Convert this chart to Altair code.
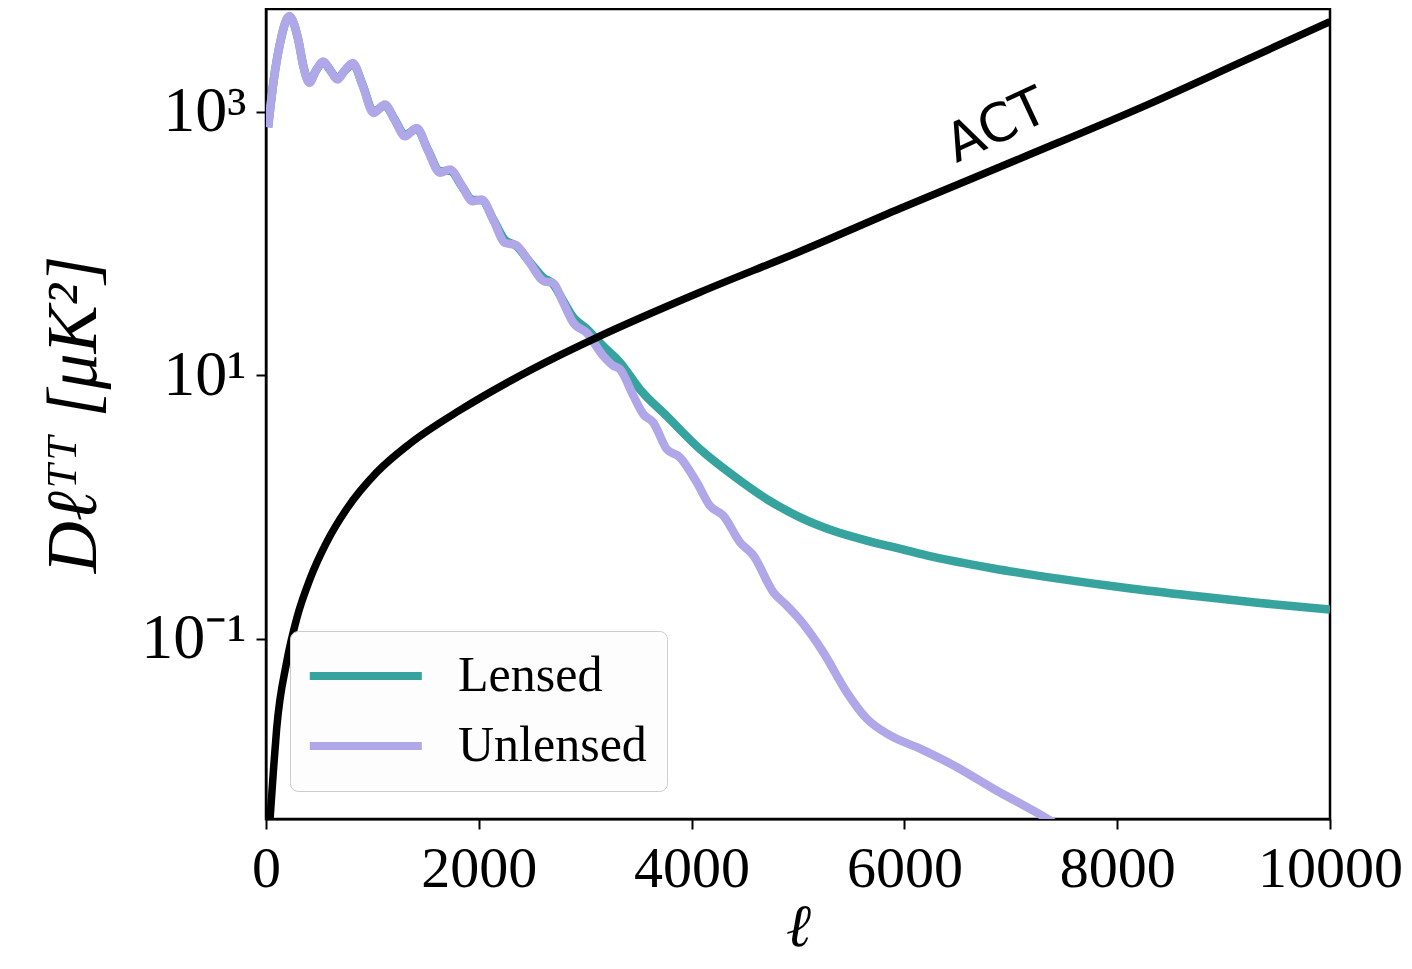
import altair as alt
import pandas as pd

# ---- data ----
ell_unlensed = [20, 69, 132, 219, 304, 351, 407, 470, 539, 605, 670, 740, 815, 910, 1009,
                1118, 1210, 1306, 1416, 1520, 1635, 1729, 1840, 1940, 2027, 2140, 2246, 2350,
                2480, 2606, 2700, 2790, 2888, 3014, 3170, 3264, 3327, 3452, 3546, 3640, 3766,
                3891, 4048, 4173, 4298, 4455, 4580, 4768, 4894, 5000, 5238, 5457, 5646, 5865,
                6147, 6460, 6836, 7306, 7500]
dl_unlensed = [760, 1650, 3300, 5300, 3500, 2200, 1650, 2050, 2400, 2050, 1750, 2050, 2340, 1560, 977,
               1130, 860, 650, 752, 510, 344, 363, 275, 209, 215, 148, 101, 97,
               71, 52, 50, 36, 25, 21, 14, 11.8, 11.1, 7.0, 5.07, 4.37, 2.75,
               2.38, 1.54, 1.02, 0.86, 0.54, 0.43, 0.226, 0.179, 0.145, 0.079, 0.0395, 0.0248, 0.0185,
               0.0147, 0.011, 0.0073, 0.0045, 0.0036]

ell_lensed = [20, 69, 132, 219, 304, 351, 407, 470, 539, 605, 670, 740, 815, 910, 1009,
              1118, 1210, 1306, 1416, 1520, 1635, 1729, 1840, 1940, 2027, 2140, 2246, 2350,
              2480, 2606, 2700, 2790, 2888, 3014, 3170, 3327, 3515, 3766, 4079, 4392, 4706,
              5019, 5332, 5646, 5927, 6209, 6836, 7462, 8089, 8715, 9342, 10000]
dl_lensed = [760, 1650, 3300, 5250, 3480, 2220, 1680, 2050, 2370, 2050, 1780, 2040, 2300, 1580, 1000,
             1110, 870, 665, 740, 515, 352, 358, 272, 214, 212, 150, 106, 96,
             72, 55, 49, 37, 27.5, 22.5, 16.6, 12.5, 7.8, 4.9, 2.75, 1.73, 1.15,
             0.835, 0.66, 0.556, 0.489, 0.430, 0.342, 0.285, 0.243, 0.212, 0.187, 0.167]

ell_act = [38, 69, 100, 194, 288, 414, 570, 758, 1040, 1353, 1823, 2293, 2763, 3108,
           4079, 5019, 5959, 7133, 8308, 9154, 10000]
dl_act = [0.0043, 0.0098, 0.0208, 0.0665, 0.142, 0.285, 0.54, 0.966, 1.83, 3.03, 5.43, 9.02, 14.2, 19.3,
          42.6, 86.9, 184, 456, 1150, 2350, 4810]

series_names = ["Lensed", "Unlensed"]
series_colors = ["#37a39f", "#b0a7e8"]

xtick_values = [0, 2000, 4000, 6000, 8000, 10000]
ytick_values = [0.1, 10, 1000]
ytick_labels = ["10\u207b\u00b9", "10\u00b9", "10\u00b3"]

act_text = ["ACT"]
act_text_ell = [6870]
act_text_val = [770]

x_domain = [0, 10000]
y_domain = [0.0043, 6000]

# ---- tables ----
spectra = pd.concat([
    pd.DataFrame({"ell": ell_lensed, "dl": dl_lensed, "series": "Lensed", "order": 0}),
    pd.DataFrame({"ell": ell_unlensed, "dl": dl_unlensed, "series": "Unlensed", "order": 1}),
], ignore_index=True)
act = pd.DataFrame({"ell": ell_act, "dl": dl_act})
act_lab = pd.DataFrame({"ell": act_text_ell, "dl": act_text_val, "text": act_text})

expr = "'" + ytick_labels[-1] + "'"
for v, lab in reversed(list(zip(ytick_values[:-1], ytick_labels[:-1]))):
    expr = f"abs(datum.value - {v}) < {v * 0.01} ? '{lab}' : " + expr

serif = "Liberation Serif"

xscale = alt.Scale(domain=x_domain, nice=False, zero=False)
yscale = alt.Scale(type="log", domain=y_domain, nice=False)

xaxis = alt.Axis(values=xtick_values, format="d", title="\u2113", titleFontStyle="italic",
                 titleFont=serif, titleFontSize=60, titleFontWeight="normal", titlePadding=0,
                 labelFont=serif, labelFontSize=58, labelPadding=11, labelColor="black",
                 tickSize=10, tickWidth=2, tickColor="black", domainColor="black",
                 domainWidth=2, grid=False, labelFlush=False, labelOverlap=False)
yaxis = alt.Axis(values=ytick_values, labelExpr=expr,
                 title="D\u2113\u1d40\u1d40 [\u03bcK\u00b2]", titleFont=serif, titleFontStyle="italic",
                 titleFontSize=72, titleFontWeight="normal", titlePadding=30, titleColor="black",
                 labelFont=serif, labelFontSize=64, labelPadding=10, labelColor="black",
                 tickSize=10, tickWidth=2, tickColor="black", domainColor="black",
                 domainWidth=2, grid=False, labelOverlap=False)

legend = alt.Legend(orient="none", legendX=24, legendY=622, title=None,
                    symbolType="M-1.8,0H6.2", symbolSize=784, symbolStrokeWidth=8,
                    labelFont=serif, labelFontSize=50, labelColor="black", labelLimit=400,
                    labelOffset=98, padding=20, rowPadding=20,
                    fillColor="#fdfdfd", strokeColor="#cccccc", cornerRadius=8)

spec_lines = alt.Chart(spectra).mark_line(strokeWidth=8.5, interpolate="monotone", clip=True).encode(
    x=alt.X("ell:Q", scale=xscale, axis=xaxis),
    y=alt.Y("dl:Q", scale=yscale, axis=yaxis),
    color=alt.Color("series:N", scale=alt.Scale(domain=series_names, range=series_colors), legend=legend),
    order=alt.Order("order:Q"),
)

act_line = alt.Chart(act).mark_line(strokeWidth=7.5, color="black", interpolate="monotone", clip=True).encode(
    x=alt.X("ell:Q", scale=xscale),
    y=alt.Y("dl:Q", scale=yscale),
)

act_text_mark = alt.Chart(act_lab).mark_text(font="DejaVu Sans", fontSize=53, angle=335,
                                             align="center", baseline="middle", color="black").encode(
    x=alt.X("ell:Q", scale=xscale),
    y=alt.Y("dl:Q", scale=yscale),
    text="text:N",
)

chart = alt.layer(spec_lines, act_line, act_text_mark).properties(
    width=1064, height=810,
    background="white",
    autosize=alt.AutoSizeParams(type="none"),
    padding={"left": 258, "top": 1, "right": 74, "bottom": 142},
).configure_view(stroke="black", strokeWidth=2.5, strokeOpacity=1)

chart.save("out.html", embed_options={"renderer": "svg", "actions": False})
